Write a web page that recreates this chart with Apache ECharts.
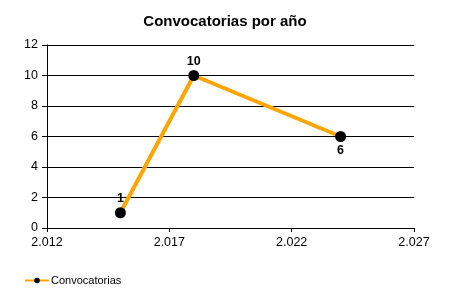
<!DOCTYPE html>
<html><head><meta charset="utf-8">
<script src="https://cdn.jsdelivr.net/npm/echarts@6/dist/echarts.min.js"></script>
<style>html,body{margin:0;padding:0;background:#fff}#c{width:450px;height:300px}</style>
</head><body><div id="c"></div>
<script>
const years = [2015, 2018, 2024];
const values = [1, 10, 6];
const labelPos = ['top', 'top', 'bottom'];
const xTicks = [2012, 2017, 2022, 2027];
const yTicks = [0, 2, 4, 6, 8, 10, 12];

const chart = echarts.init(document.getElementById('c'));
const font = 'Liberation Sans, Arial, sans-serif';
chart.setOption({
  animation: false,
  title: {text: 'Convocatorias por año', left: 'center', top: 9,
    textStyle: {fontFamily: font, fontSize: 15, fontWeight: 'bold', color: '#000'}},
  grid: {left: 47, right: 36, top: 45, bottom: 72},
  xAxis: {type: 'value', min: xTicks[0], max: xTicks[xTicks.length-1], interval: 5,
    axisLine: {lineStyle: {color: '#000'}},
    axisTick: {show: true, length: 4, lineStyle: {color: '#000'}},
    splitLine: {show: false},
    axisLabel: {color: '#000', fontFamily: font, fontSize: 12.5, margin: 8,
      formatter: v => { const s = String(v); return s.slice(0, s.length-3) + '.' + s.slice(-3); }}},
  yAxis: {type: 'value', min: yTicks[0], max: yTicks[yTicks.length-1], interval: 2,
    axisLine: {show: true, lineStyle: {color: '#000'}},
    axisTick: {show: true, length: 5, lineStyle: {color: '#000'}},
    splitLine: {show: true, lineStyle: {color: '#000', width: 1}},
    axisLabel: {color: '#000', fontFamily: font, fontSize: 12.5, margin: 9}},
  legend: {left: 19, top: 270, itemWidth: 24, itemHeight: 7, itemGap: 5,
    textStyle: {fontFamily: font, fontSize: 11, color: '#000', padding: [0, 0, 0, -3]},
    data: ['Convocatorias']},
  series: [{
    name: 'Convocatorias', type: 'line',
    data: years.map((y, i) => ({value: [y, values[i]], label: {position: labelPos[i]}})),
    lineStyle: {color: '#FFA500', width: 4},
    itemStyle: {color: '#000'},
    symbol: 'circle', symbolSize: 11,
    label: {show: true, color: '#000', fontFamily: font, fontSize: 12.5, fontWeight: 'bold', distance: 2,
      formatter: p => p.value[1]},
    z: 3
  }]
});
</script></body></html>
